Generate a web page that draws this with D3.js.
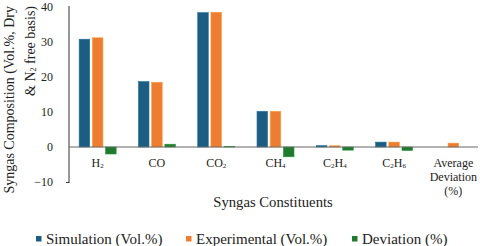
<!doctype html>
<meta charset="utf-8">
<style>
  body { margin: 0; background: #fff; }
</style>
<svg id="chart" width="480" height="246" font-family="Liberation Serif"></svg>
<script src="https://cdn.jsdelivr.net/npm/d3@7"></script>
<script>
  // category labels: [text, "sub"?] pieces
  let categories = ["H2", "CO", "CO2", "CH4", "C2H4", "C2H6", "Average Deviation (%)"];
  let catLabels = [
    [["H", ""], ["2", "sub"]],
    [["CO", ""]],
    [["CO", ""], ["2", "sub"]],
    [["CH", ""], ["4", "sub"]],
    [["C", ""], ["2", "sub"], ["H", ""], ["4", "sub"]],
    [["C", ""], ["2", "sub"], ["H", ""], ["6", "sub"]],
    null
  ];
  let simulation   = [30.8, 18.7, 38.4, 10.2, 0.4, 1.4, 0];
  let experimental = [31.2, 18.5, 38.5, 10.2, 0.35, 1.4, 1.1];
  let deviation    = [-2.0, 0.8, 0.1, -2.8, -0.9, -1.0, 0];
  let seriesNames = ["Simulation (Vol.%)", "Experimental (Vol.%)", "Deviation (%)"];
  let colours = ["#1c5e82", "#ed7d31", "#1f7a2d"];
  let yTicks = [-10, 0, 10, 20, 30, 40];

  const FONT = "Liberation Serif";
  let svg = d3.select("#chart");
  let series = [simulation, experimental, deviation];

  let x = d3.scaleBand().domain(categories).range([68, 483]);
  let x1 = d3.scaleBand().domain([0, 1, 2]).range([-18.5, 18.5]).paddingInner(0.2);
  let y = d3.scaleLinear().domain([-10, 40]).range([182, 7]);

  // y axis
  let yAxis = svg.append("g")
    .attr("transform", "translate(69,0)")
    .call(d3.axisLeft(y).tickValues(yTicks).tickSize(3).tickPadding(13));
  yAxis.attr("font-family", FONT).attr("font-size", 12);
  yAxis.selectAll(".tick text").attr("fill", "#222");
  yAxis.select(".domain").attr("stroke", "#333").attr("d", "M0," + (y(-10) + 1) + "V" + (y(40) - 1));
  yAxis.selectAll(".tick line").attr("stroke", "#333").attr("x1", 0).attr("x2", -3)
    .attr("opacity", d => d === -10 ? 1 : 0);

  // bars
  series.forEach((vals, s) => {
    svg.append("g").selectAll("rect")
      .data(vals)
      .enter()
      .append("rect")
      .attr("x", (d, i) => x(categories[i]) + x.bandwidth() / 2 + x1(s))
      .attr("width", x1.bandwidth())
      .attr("y", d => y(Math.max(0, d)))
      .attr("height", d => Math.abs(y(d) - y(0)))
      .attr("fill", colours[s])
      .attr("stroke", d3.color(colours[s]).brighter(0.6))
      .attr("stroke-width", 0.6);
  });

  // zero line
  svg.append("line")
    .attr("x1", 69).attr("x2", 478)
    .attr("y1", y(0)).attr("y2", y(0))
    .attr("stroke", "#666").attr("stroke-width", 1.2);

  // category labels
  categories.forEach((c, i) => {
    let cx = x(c) + x.bandwidth() / 2;
    let t = svg.append("text")
      .attr("x", cx).attr("y", 167)
      .attr("text-anchor", "middle")
      .attr("font-family", FONT)
      .attr("font-size", 12)
      .attr("fill", "#222");
    if (catLabels[i]) {
      catLabels[i].forEach(p => {
        let ts = t.append("tspan").text(p[0]);
        if (p[1] === "sub") ts.attr("font-size", 7).attr("dy", 1);
        else if (t.selectAll("tspan").size() > 1) ts.attr("dy", -1);
      });
    } else {
      ["Average", "Deviation", "(%)"].forEach((w, k) => {
        t.append("tspan").attr("x", cx).attr("dy", k === 0 ? 0 : 14).text(w);
      });
    }
  });

  // y title
  let yt = svg.append("text")
    .attr("transform", "translate(14,6) rotate(-90)")
    .attr("text-anchor", "end")
    .attr("font-family", FONT)
    .attr("font-size", 14)
    .attr("fill", "#222");
  yt.append("tspan").attr("x", 0).attr("y", 0).text("Syngas Composition (Vol.%, Dry");
  let l2 = yt.append("tspan").attr("x", 0).attr("y", 21);
  l2.append("tspan").text("& N");
  l2.append("tspan").attr("font-size", 8).attr("dy", 1).text("2");
  l2.append("tspan").attr("dy", -1).text(" free basis)");

  // x title
  svg.append("text")
    .attr("x", 273).attr("y", 207)
    .attr("text-anchor", "middle")
    .attr("font-family", FONT)
    .attr("font-size", 14.7)
    .attr("fill", "#222")
    .text("Syngas Constituents");

  // legend
  let legX = [36, 186, 352];
  let leg = svg.append("g").selectAll("g")
    .data(seriesNames)
    .enter()
    .append("g")
    .attr("transform", (d, i) => "translate(" + legX[i] + ",239)");
  leg.append("rect")
    .attr("x", 0).attr("y", -3).attr("width", 5.5).attr("height", 5.5)
    .attr("fill", (d, i) => colours[i]);
  leg.append("text")
    .attr("x", 10).attr("y", 4.5)
    .attr("font-family", FONT)
    .attr("font-size", 15)
    .attr("fill", "#222")
    .text(d => d);
</script>
